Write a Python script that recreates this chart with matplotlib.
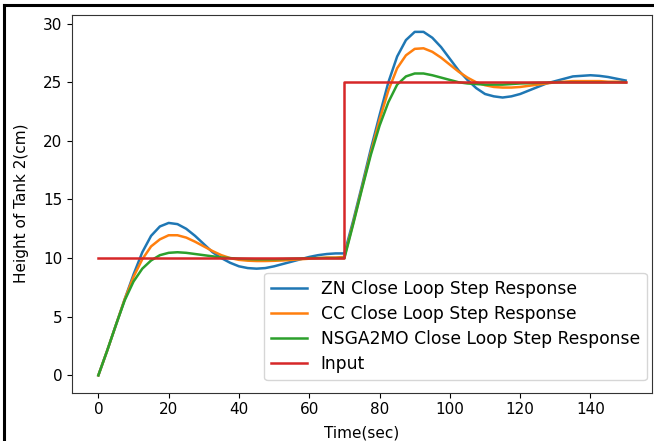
import numpy as np
import matplotlib
matplotlib.use('Agg')
import matplotlib.pyplot as plt
from matplotlib.lines import Line2D

# time grid of the simulation (sec)
t = np.arange(0, 150.1, 2.5)

# one value per 2.5 s
zn = [0, 2.1, 4.3, 6.5, 8.6, 10.5, 11.9, 12.7, 13.0, 12.9, 12.5, 11.9, 11.2, 10.5, 10.0,
      9.6, 9.3, 9.15, 9.1, 9.15, 9.3, 9.5, 9.7, 9.9, 10.1, 10.25, 10.35, 10.4, 10.4,
      13.2, 16.2, 19.3, 22.2, 25.0, 27.2, 28.6, 29.3, 29.3, 28.8, 28.0, 27.0, 26.0, 25.2,
      24.5, 24.0, 23.8, 23.7, 23.8, 24.0, 24.3, 24.6, 24.9, 25.1, 25.3, 25.5, 25.55, 25.6,
      25.55, 25.45, 25.3, 25.15]
cc = [0, 2.1, 4.3, 6.5, 8.4, 9.9, 11.0, 11.6, 11.95, 11.95, 11.75, 11.4, 11.0, 10.6, 10.25,
      10.0, 9.85, 9.78, 9.75, 9.75, 9.77, 9.8, 9.85, 9.9, 9.95, 10.0, 10.05, 10.05, 10.1,
      13.0, 16.0, 19.0, 21.8, 24.3, 26.2, 27.3, 27.85, 27.9, 27.6, 27.1, 26.5, 25.9, 25.4,
      25.0, 24.75, 24.6, 24.55, 24.55, 24.6, 24.7, 24.8, 24.9, 25.0, 25.05, 25.1, 25.1, 25.1,
      25.1, 25.05, 25.05, 25.0]
nsga = [0, 2.1, 4.3, 6.4, 8.0, 9.1, 9.8, 10.25, 10.45, 10.5, 10.45, 10.35, 10.25, 10.15, 10.05,
        10.0, 9.95, 9.92, 9.9, 9.9, 9.9, 9.92, 9.95, 9.97, 10.0, 10.0, 10.0, 10.0, 10.0,
        12.9, 15.9, 18.8, 21.3, 23.3, 24.8, 25.5, 25.75, 25.75, 25.6, 25.4, 25.2, 25.0, 24.9,
        24.85, 24.8, 24.8, 24.8, 24.85, 24.9, 24.92, 24.95, 24.97, 25.0, 25.0, 25.0, 25.0, 25.0,
        25.0, 25.0, 25.0, 25.0]

input_t = [0, 70, 70, 150]
input_v = [10, 10, 25, 25]

plt.rcParams['font.size'] = 11

fig = plt.figure(figsize=(6.54, 4.41), dpi=100)
ax = fig.add_axes([72/654, 1 - 392.5/441, 580/654, 377.8/441])

ax.plot(t, zn, lw=1.8, label='ZN Close Loop Step Response')
ax.plot(t, cc, lw=1.8, label='CC Close Loop Step Response')
ax.plot(t, nsga, lw=1.8, label='NSGA2MO Close Loop Step Response')
ax.plot(input_t, input_v, lw=1.8, label='Input')

ax.set_xticks(np.arange(0, 141, 20))
ax.set_yticks(np.arange(0, 31, 5))
ax.set_xlabel('Time(sec)', labelpad=6)
ax.set_ylabel('Height of Tank 2(cm)', labelpad=10)
ax.legend(loc='lower right', fontsize=12.3, labelspacing=0.42, handlelength=2.1,
          borderaxespad=0, bbox_to_anchor=(0.991, 0.033))

for s in ax.spines.values():
    s.set_color('#333333')

# black frame of the screenshot (top and left edge)
fig.add_artist(Line2D([4/654, 4/654], [0, 1 - 5/441], color='black', lw=2.2,
                      transform=fig.transFigure))
fig.add_artist(Line2D([4/654, 1], [1 - 5/441, 1 - 5/441], color='black', lw=2.2,
                      transform=fig.transFigure))

fig.savefig('out.png', dpi=100)
